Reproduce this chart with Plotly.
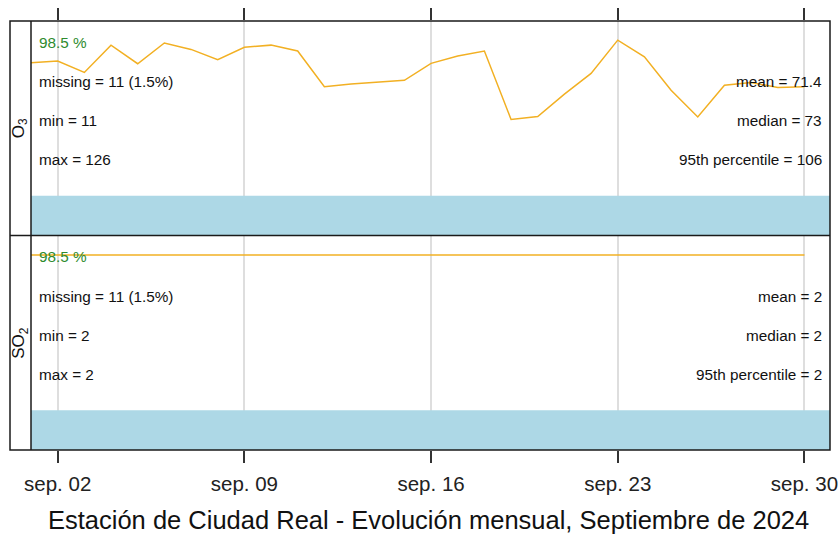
import plotly.graph_objects as go
from plotly.subplots import make_subplots

# ---------------- data ----------------
days = ["2024-09-%02d" % d for d in range(1, 31)]
o3_daily = [76.6, 77.6, 71.2, 86.5, 76.1, 87.7, 84.1, 78.3, 85.3, 86.5,
            83.2, 63.2, 64.8, 65.6, 66.8, 76.3, 80.4, 83.2, 44.9, 46.6,
            59.1, 70.7, 89.3, 80.0, 61.3, 46.3, 64.1, 65.6, 62.8, 63.2]
so2_daily = [2, 2, 2, 2, 2, 2, 2, 2, 2, 2,
             2, 2, 2, 2, 2, 2, 2, 2, 2, 2,
             2, 2, 2, 2, 2, 2, 2, 2, 2, 2]
capture_start = "2024-09-01 00:00"
capture_end = "2024-09-30 23:00"

pollutants = ["O<sub>3</sub>", "SO<sub>2</sub>"]
capture_pct = ["98.5 %", "98.5 %"]
missing_txt = ["missing = 11 (1.5%)", "missing = 11 (1.5%)"]
min_txt = ["min = 11", "min = 2"]
max_txt = ["max = 126", "max = 2"]
mean_txt = ["mean = 71.4", "mean = 2"]
median_txt = ["median = 73", "median = 2"]
p95_txt = ["95th percentile = 106", "95th percentile = 2"]

tick_vals = ["2024-09-02", "2024-09-09", "2024-09-16", "2024-09-23", "2024-09-30"]
tick_text = ["sep. 02", "sep. 09", "sep. 16", "sep. 23", "sep. 30"]
title_text = "Estación de Ciudad Real - Evolución mensual, Septiembre de 2024"

# ---------------- layout constants ----------------
W, H = 838, 544
L, R, T, B = 31, 830, 21, 450
PW, PH = R - L, B - T
FONT = "Liberation Sans, Arial, sans-serif"
LINE_COL = "#F2B023"
BAR_COL = "#ADD8E6"
GREEN = "#2E8B2E"
BORDER = "#1a1a1a"

def px_x(p):
    return (p - L) / PW

def px_y(p):
    return (B - p) / PH

y_ranges = [[-20, 100], [-8, 3]]
bar_frac = 0.185

fig = make_subplots(rows=2, cols=1, shared_xaxes=True, vertical_spacing=0)

series = [o3_daily, so2_daily]
for i, vals in enumerate(series):
    lo, hi = y_ranges[i]
    top = lo + bar_frac * (hi - lo)
    fig.add_trace(go.Scatter(
        x=[capture_start, capture_end, capture_end, capture_start],
        y=[lo, lo, top, top], fill="toself", fillcolor=BAR_COL,
        mode="lines", line=dict(width=0, color=BAR_COL), hoverinfo="skip",
        showlegend=False), row=i + 1, col=1)
    fig.add_trace(go.Scatter(
        x=days, y=vals, mode="lines", line=dict(color=LINE_COL, width=1.5),
        showlegend=False), row=i + 1, col=1)

xcommon = dict(
    type="date", range=[capture_start, capture_end],
    tickvals=tick_vals, ticktext=tick_text,
    showgrid=True, gridcolor="#DEDEDE", gridwidth=1.5,
    ticks="outside", ticklen=12, tickwidth=1.5, tickcolor="#333333",
    showline=False, zeroline=False, automargin=False,
)
fig.update_xaxes(**xcommon)
fig.update_xaxes(side="top", showticklabels=False, row=1, col=1)
fig.update_xaxes(showticklabels=True, tickfont=dict(family=FONT, size=20.5, color="#222222"),
                 ticklabelstandoff=3, ticklabeloverflow="allow", row=2, col=1)
for i in range(2):
    fig.update_yaxes(range=y_ranges[i], showgrid=False, zeroline=False, automargin=False,
                     showticklabels=False, ticks="", showline=False, row=i + 1, col=1)

ann = []
yrefs = ["y domain", "y2 domain"]
xrefs = ["x domain", "x2 domain"]
left_fracs = [0.10, 0.283, 0.465, 0.647]
right_fracs = [0.283, 0.465, 0.647]
for i in range(2):
    left_items = [(capture_pct[i], GREEN), (missing_txt[i], "#111111"),
                  (min_txt[i], "#111111"), (max_txt[i], "#111111")]
    for (txt, col), f in zip(left_items, left_fracs):
        ann.append(dict(text=txt, xref=xrefs[i], yref=yrefs[i], x=px_x(37), y=1 - f,
                        xanchor="left", yanchor="middle", showarrow=False,
                        font=dict(family=FONT, size=15.3, color=col)))
    right_items = [mean_txt[i], median_txt[i], p95_txt[i]]
    for txt, f in zip(right_items, right_fracs):
        ann.append(dict(text=txt, xref=xrefs[i], yref=yrefs[i], x=px_x(824), y=1 - f,
                        xanchor="right", yanchor="middle", showarrow=False,
                        font=dict(family=FONT, size=15.3, color="#111111")))
    ann.append(dict(text=pollutants[i], xref="paper", yref=yrefs[i], x=px_x(20), y=0.5,
                    xanchor="center", yanchor="middle", showarrow=False, textangle=-90,
                    font=dict(family=FONT, size=17, color="#111111")))

ann.append(dict(text=title_text, xref="paper", yref="paper", x=px_x(428), y=px_y(520),
                xanchor="center", yanchor="middle", showarrow=False,
                font=dict(family=FONT, size=25.5, color="#111111")))

shapes = [
    dict(type="rect", xref="paper", yref="paper", x0=px_x(10), x1=1, y0=0, y1=1,
         line=dict(color=BORDER, width=1.5)),
    dict(type="line", xref="paper", yref="paper", x0=0, x1=0, y0=0, y1=1,
         line=dict(color=BORDER, width=1.5)),
    dict(type="line", xref="paper", yref="paper", x0=px_x(10), x1=1, y0=0.5, y1=0.5,
         line=dict(color=BORDER, width=1.5)),
]

fig.update_layout(
    width=W, height=H, margin=dict(l=L, r=W - R, t=T, b=H - B, pad=0, autoexpand=False),
    paper_bgcolor="white", plot_bgcolor="white",
    annotations=ann, shapes=shapes, showlegend=False,
    font=dict(family=FONT),
)

fig.write_html("out.html", config={"displayModeBar": False},
               post_script="document.body.style.margin='0';document.body.style.overflow='hidden';")
